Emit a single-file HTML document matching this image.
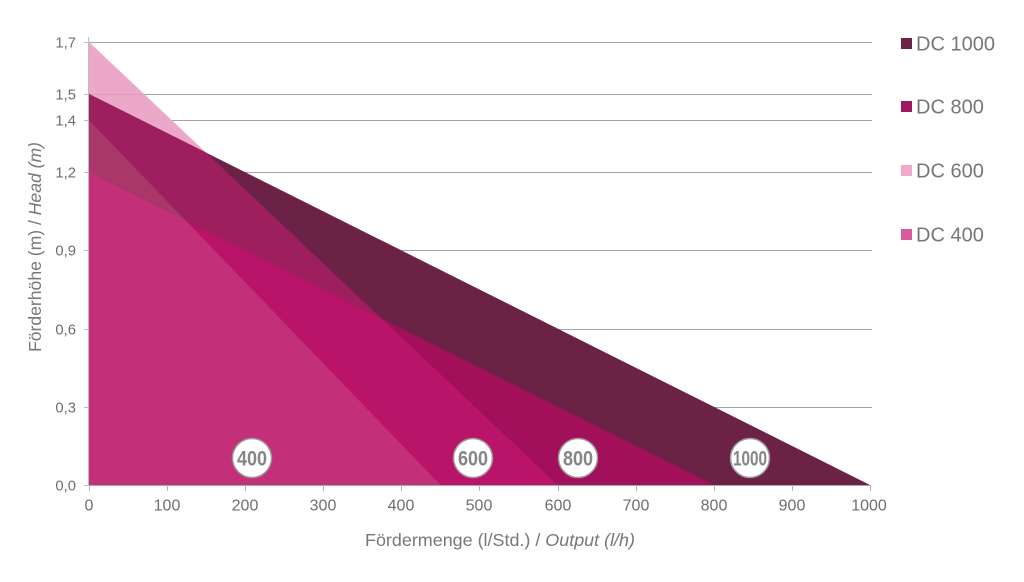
<!DOCTYPE html>
<html><head><meta charset="utf-8"><style>
html,body{margin:0;padding:0;background:#fff;}
svg{display:block;}
text{font-family:"Liberation Sans",sans-serif;}
</style></head><body>
<svg width="1024" height="582" viewBox="0 0 1024 582" xmlns="http://www.w3.org/2000/svg">
<rect width="1024" height="582" fill="#fff"/>
<!-- gridlines -->
<g stroke="#a3a3a3" stroke-width="1">
<line x1="89" y1="42.5" x2="872" y2="42.5"/>
<line x1="89" y1="94.5" x2="872" y2="94.5"/>
<line x1="89" y1="120.5" x2="872" y2="120.5"/>
<line x1="89" y1="172.5" x2="872" y2="172.5"/>
<line x1="89" y1="250.5" x2="872" y2="250.5"/>
<line x1="89" y1="329.5" x2="872" y2="329.5"/>
<line x1="89" y1="407.5" x2="872" y2="407.5"/>
</g>
<!-- y axis -->
<line x1="88.5" y1="37" x2="88.5" y2="485" stroke="#bdbdbd" stroke-width="1"/>
<g stroke="#bdbdbd" stroke-width="1">
<line x1="84" y1="42.5" x2="89" y2="42.5"/>
<line x1="84" y1="94.5" x2="89" y2="94.5"/>
<line x1="84" y1="120.5" x2="89" y2="120.5"/>
<line x1="84" y1="172.5" x2="89" y2="172.5"/>
<line x1="84" y1="250.5" x2="89" y2="250.5"/>
<line x1="84" y1="329.5" x2="89" y2="329.5"/>
<line x1="84" y1="407.5" x2="89" y2="407.5"/>
<line x1="84" y1="485.5" x2="89" y2="485.5"/>
</g>
<!-- DC600 light pink -->
<polygon points="89,485 89,42 557.6,485" fill="#eba8c8"/>
<line x1="89" y1="94.5" x2="145" y2="94.5" stroke="#d9a0ba" stroke-width="1"/>
<!-- DC1000 -->
<polygon points="89,485 89,94 870,485" fill="#6b2246"/>
<!-- DC600 ∩ DC1000 -->
<polygon points="89,485 89,94 206,152.5 557.6,485" fill="#9d1f5d"/>
<!-- DC800 (not 600) -->
<polygon points="89,485 89,172.3 714,485" fill="#a20f5b"/>
<!-- DC800 ∩ DC600 -->
<polygon points="89,485 89,172.3 382.6,319.3 557.6,485" fill="#b9136a"/>
<!-- DC400 -->
<polygon points="89,485 89,120.2 440.5,485" fill="#a9376a"/>
<!-- DC400 ∩ DC800 -->
<polygon points="89,485 89,172.3 185.9,220.8 440.5,485" fill="#c32f78"/>
<!-- baseline -->
<line x1="89" y1="485.5" x2="871" y2="485.5" stroke="#a8a8a8" stroke-width="1"/>
<g stroke="#b5b5b5" stroke-width="1">
<line x1="89.5" y1="485" x2="89.5" y2="491"/>
<line x1="167.5" y1="485" x2="167.5" y2="491"/>
<line x1="245.5" y1="485" x2="245.5" y2="491"/>
<line x1="323.5" y1="485" x2="323.5" y2="491"/>
<line x1="401.5" y1="485" x2="401.5" y2="491"/>
<line x1="479.5" y1="485" x2="479.5" y2="491"/>
<line x1="558.5" y1="485" x2="558.5" y2="491"/>
<line x1="636.5" y1="485" x2="636.5" y2="491"/>
<line x1="714.5" y1="485" x2="714.5" y2="491"/>
<line x1="792.5" y1="485" x2="792.5" y2="491"/>
<line x1="870.5" y1="485" x2="870.5" y2="491"/>
</g>
<!-- y labels -->
<g fill="#6e6e6e" font-size="14.8" text-anchor="end">
<text x="76" y="47.5">1,7</text>
<text x="76" y="99.5">1,5</text>
<text x="76" y="125.5">1,4</text>
<text x="76" y="177.5">1,2</text>
<text x="76" y="255.5">0,9</text>
<text x="76" y="334.5">0,6</text>
<text x="76" y="412.5">0,3</text>
<text x="76" y="490.5">0,0</text>
</g>
<!-- x labels -->
<g fill="#6e6e6e" font-size="16" text-anchor="middle">
<text x="89" y="510.5">0</text>
<text x="167" y="510.5">100</text>
<text x="245" y="510.5">200</text>
<text x="323" y="510.5">300</text>
<text x="401" y="510.5">400</text>
<text x="479" y="510.5">500</text>
<text x="558" y="510.5">600</text>
<text x="636" y="510.5">700</text>
<text x="714" y="510.5">800</text>
<text x="792" y="510.5">900</text>
<text x="869" y="510.5">1000</text>
</g>
<!-- axis titles -->
<text x="365" y="546" font-size="17.5" fill="#777" textLength="270" lengthAdjust="spacingAndGlyphs">Fördermenge (l/Std.) / <tspan font-style="italic">Output (l/h)</tspan></text>
<text transform="translate(41,352) rotate(-90)" x="0" y="0" font-size="17.5" fill="#777" textLength="210" lengthAdjust="spacingAndGlyphs">Förderhöhe (m) / <tspan font-style="italic">Head (m)</tspan></text>
<!-- circles -->
<g>
<circle cx="252" cy="458" r="19.5" fill="#fff" stroke="#9a9a9a" stroke-width="1.5"/>
<text x="252" y="465.5" font-size="21" font-weight="bold" fill="#858585" text-anchor="middle" textLength="30" lengthAdjust="spacingAndGlyphs">400</text>
<circle cx="473" cy="458" r="19.5" fill="#fff" stroke="#9a9a9a" stroke-width="1.5"/>
<text x="473" y="465.5" font-size="21" font-weight="bold" fill="#858585" text-anchor="middle" textLength="30" lengthAdjust="spacingAndGlyphs">600</text>
<circle cx="578" cy="458" r="19.5" fill="#fff" stroke="#9a9a9a" stroke-width="1.5"/>
<text x="578" y="465.5" font-size="21" font-weight="bold" fill="#858585" text-anchor="middle" textLength="30" lengthAdjust="spacingAndGlyphs">800</text>
<circle cx="750" cy="458" r="19.5" fill="#fff" stroke="#9a9a9a" stroke-width="1.5"/>
<text x="750" y="465.5" font-size="21" font-weight="bold" fill="#858585" text-anchor="middle" textLength="34" lengthAdjust="spacingAndGlyphs">1000</text>
</g>
<!-- legend -->
<rect x="901" y="38" width="11" height="11" fill="#6e2349"/>
<rect x="901" y="101" width="11" height="11" fill="#a0195f"/>
<rect x="901" y="165" width="11" height="11" fill="#f0a9c9"/>
<rect x="901" y="229" width="11" height="11" fill="#d85c9c"/>
<g fill="#777" font-size="20">
<text x="916" y="50.5">DC 1000</text>
<text x="916" y="113.5">DC 800</text>
<text x="916" y="177.5">DC 600</text>
<text x="916" y="241.5">DC 400</text>
</g>
</svg>
</body></html>
